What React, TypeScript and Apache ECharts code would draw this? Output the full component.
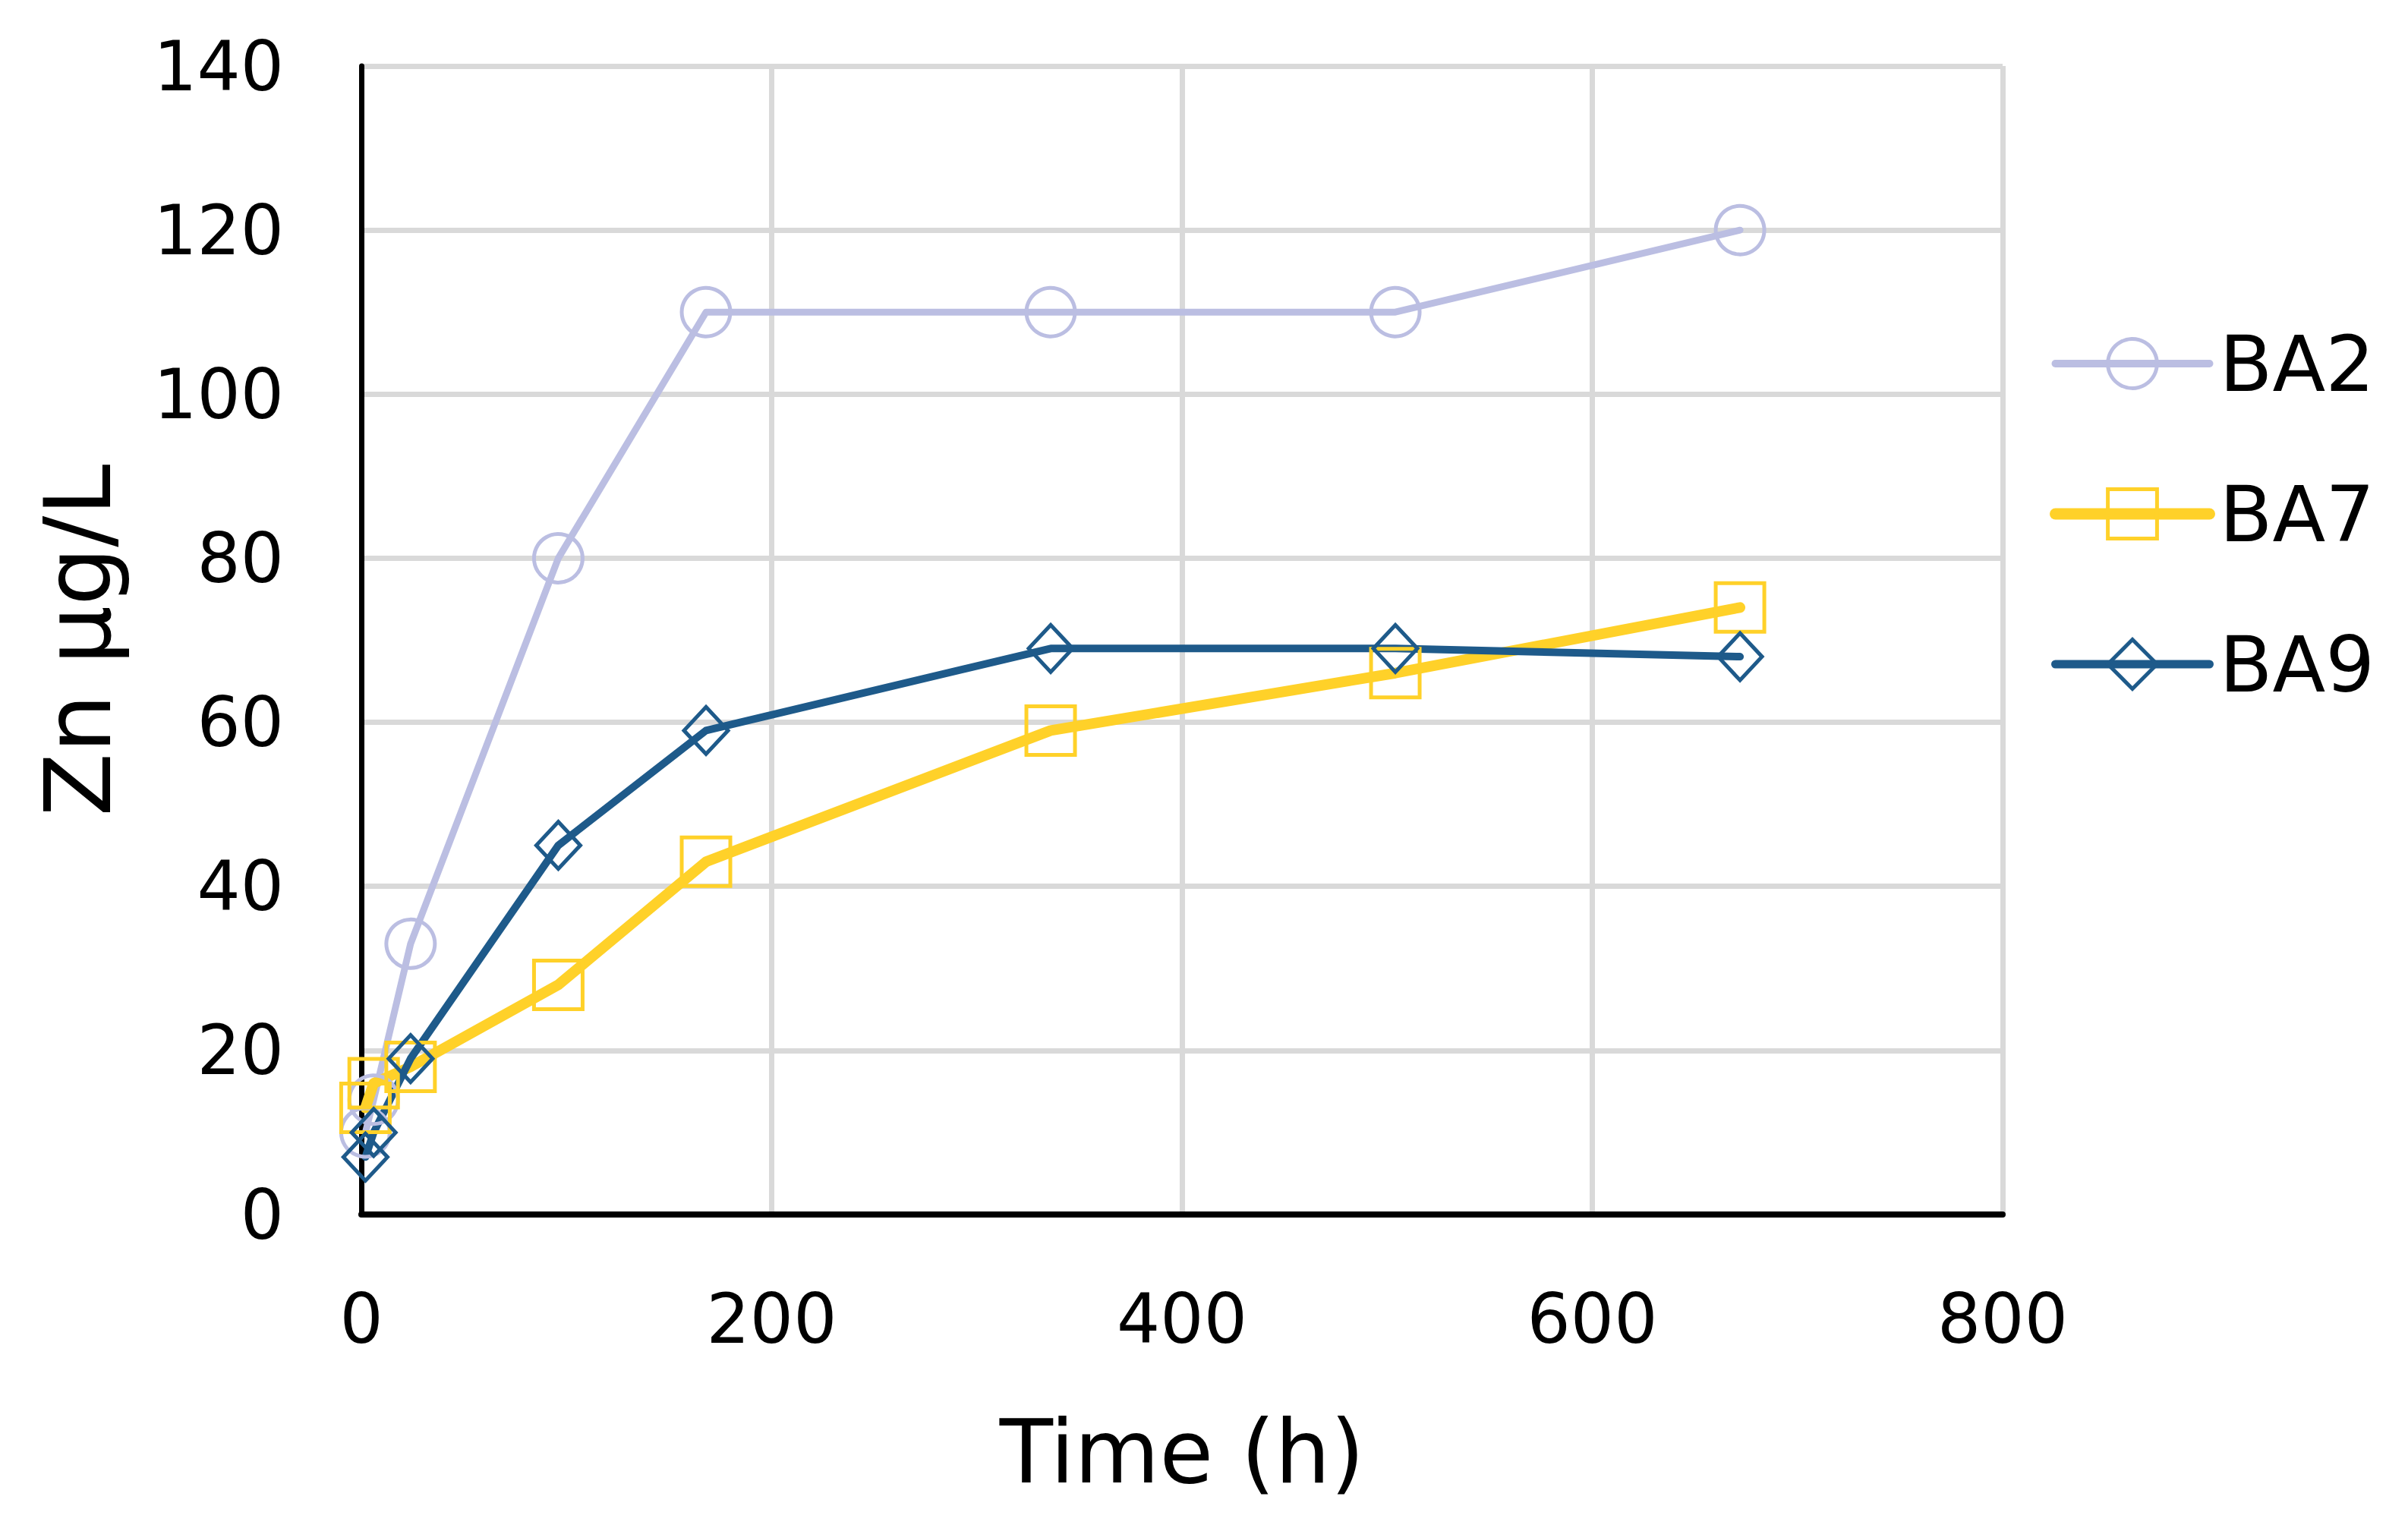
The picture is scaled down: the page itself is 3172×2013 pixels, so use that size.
import React, { useEffect, useRef } from "react";
import * as echarts from "echarts";

const times = [2, 6, 24, 96, 168, 336, 504, 672];
const ba2 = [10, 14, 33, 80, 110, 110, 110, 120];
const ba7 = [13, 16, 18, 28, 43, 59, 66, 74];
const ba9 = [7, 10, 19, 45, 59, 69, 69, 68];
const seriesNames = ["BA2", "BA7", "BA9"];
const seriesColors = ["#BBBEE2", "#FFD129", "#1E5A8A"];
const seriesWidths = [9, 14, 10];
const xTitle = "Time (h)";
const yTitle = "Zn µg/L";

const FONT = "DejaVu Sans";

function pairs(ys: number[]) {
  return times.map((t, i) => [t, ys[i]]);
}

export default function App() {
  const ref = useRef<HTMLDivElement>(null);
  useEffect(() => {
    if (!ref.current) return;
    const chart = echarts.init(ref.current, null, { renderer: "svg" });
    const mk = (
      name: string,
      ys: number[],
      color: string,
      width: number,
      symbol: string,
      size: any
    ) => ({
      name,
      type: "line",
      data: pairs(ys),
      symbol,
      symbolSize: size,
      showAllSymbol: true,
      lineStyle: { color, width, cap: "round", join: "round" },
      itemStyle: {
        color: "rgba(255,255,255,0)",
        borderColor: color,
        borderWidth: 5,
      },
      emphasis: { disabled: true },
    });
    chart.setOption({
      animation: false,
      backgroundColor: "#ffffff",
      grid: { left: 476, right: 534, top: 87, bottom: 413, containLabel: false },
      legend: {
        orient: "vertical",
        left: 2700,
        top: 428,
        padding: 0,
        itemWidth: 203,
        itemHeight: 81,
        itemGap: 96,
        textStyle: { fontFamily: FONT, fontSize: 102, color: "#000", padding: [0, 0, 0, 8] },
        data: seriesNames.map((n, i) => ({
          name: n,
          lineStyle: { width: seriesWidths[i] + 1, color: seriesColors[i], cap: "round" },
          itemStyle: { borderWidth: 5, borderColor: seriesColors[i], color: "rgba(255,255,255,0)" },
        })),
      },
      xAxis: {
        type: "value",
        min: 0,
        max: 800,
        interval: 200,
        name: xTitle,
        nameLocation: "middle",
        nameGap: 255,
        nameTextStyle: { fontFamily: FONT, fontSize: 115, color: "#000" },
        axisLine: { onZero: false, lineStyle: { color: "#000", width: 8 } },
        axisTick: { show: false },
        axisLabel: { fontFamily: FONT, fontSize: 90, color: "#000", margin: 92 },
        splitLine: { show: true, lineStyle: { color: "#D9D9D9", width: 7 } },
      },
      yAxis: {
        type: "value",
        min: 0,
        max: 140,
        interval: 20,
        name: yTitle,
        nameLocation: "middle",
        nameGap: 312,
        nameRotate: 90,
        nameTextStyle: { fontFamily: FONT, fontSize: 122, color: "#000" },
        axisLine: { show: true, onZero: false, lineStyle: { color: "#000", width: 7 } },
        axisTick: { show: false },
        axisLabel: { fontFamily: FONT, fontSize: 90, color: "#000", margin: 102 },
        splitLine: { show: true, lineStyle: { color: "#D9D9D9", width: 7 } },
      },
      series: [
        mk("BA2", ba2, seriesColors[0], seriesWidths[0], "circle", 64),
        mk("BA7", ba7, seriesColors[1], seriesWidths[1], "rect", 64),
        mk("BA9", ba9, seriesColors[2], seriesWidths[2], "diamond", [58, 62]),
      ],
    });
    return () => chart.dispose();
  }, []);
  return (
    <div
      ref={ref}
      style={{ position: "fixed", left: 0, top: 0, width: 3172, height: 2013, background: "#fff" }}
    />
  );
}
